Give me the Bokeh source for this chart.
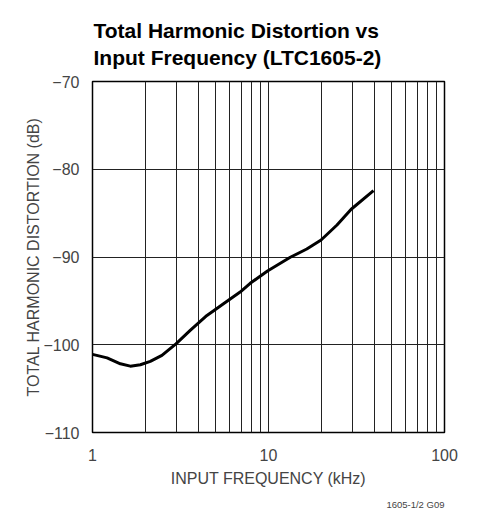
from bokeh.plotting import figure
from bokeh.models import FixedTicker, Range1d, Title
from bokeh.embed import file_html
from bokeh.resources import INLINE

# data
freq_khz = [1.0, 1.21, 1.44, 1.64, 1.87, 2.13, 2.48, 2.98, 3.59, 4.47, 5.55,
            6.9, 7.87, 9.87, 13.3, 16.5, 19.9, 24.5, 29.5, 39.5]
thd_db = [-101.1, -101.5, -102.17, -102.44, -102.28, -101.9, -101.22, -99.89,
          -98.37, -96.66, -95.33, -94.0, -93.0, -91.6, -90.03, -89.09, -88.06,
          -86.35, -84.56, -82.44]
x_major = [1, 10, 100]
x_minor = [2, 3, 4, 5, 6, 7, 8, 9, 20, 30, 40, 50, 60, 70, 80, 90]
y_ticks = [-110, -100, -90, -80, -70]
y_labels = {v: "\u2212" + str(abs(v)) for v in y_ticks}

FONT = "Liberation Sans"

p = figure(width=470, height=517, x_axis_type="log",
           x_range=Range1d(1, 100), y_range=Range1d(-110, -70),
           output_backend="svg", toolbar_location=None,
           min_border_left=92, min_border_right=26,
           min_border_top=81, min_border_bottom=85)

p.title.text = "Total Harmonic Distortion vs\nInput Frequency (LTC1605-2)"
p.title.text_font = FONT
p.title.text_font_size = "21px"
p.title.text_font_style = "bold"
p.title.text_color = "black"
p.title.align = "left"
p.title.offset = 1
p.title.standoff = 24
p.title.text_line_height = 1.18

p.outline_line_color = "black"
p.outline_line_width = 1.5

# x axis
xa = p.xaxis[0]
xa.ticker = FixedTicker(ticks=x_major, minor_ticks=x_minor)
xa.major_label_overrides = {1: "1", 10: "10", 100: "100"}
xa.axis_label = "INPUT FREQUENCY (kHz)"
xa.axis_label_text_font = FONT
xa.axis_label_text_font_size = "16px"
xa.axis_label_text_font_style = "normal"
xa.axis_label_standoff = 6
xa.major_label_text_font = FONT
xa.major_label_text_font_size = "16px"
xa.major_label_standoff = 10
xa.axis_line_color = None
xa.major_tick_line_color = None
xa.minor_tick_line_color = None

# y axis
ya = p.yaxis[0]
ya.ticker = FixedTicker(ticks=y_ticks)
ya.major_label_overrides = y_labels
ya.axis_label = "TOTAL HARMONIC DISTORTION (dB)"
ya.axis_label_text_font = FONT
ya.axis_label_text_font_size = "16px"
ya.axis_label_text_font_style = "normal"
ya.axis_label_standoff = -2
ya.major_label_text_font = FONT
ya.major_label_text_font_size = "16px"
ya.major_label_standoff = 7
ya.axis_line_color = None
ya.major_tick_line_color = None
ya.minor_tick_line_color = None

# grids
p.xgrid.grid_line_color = "#222222"
p.xgrid.grid_line_width = 1
p.xgrid.minor_grid_line_color = "#222222"
p.xgrid.minor_grid_line_width = 1
p.ygrid.grid_line_color = "#222222"
p.ygrid.grid_line_width = 1

p.line(freq_khz, thd_db, line_color="black", line_width=3, line_join="round")

note = Title(text="1605-1/2 G09", align="right", text_font=FONT,
             text_font_size="9.5px", text_font_style="normal", standoff=15)
p.add_layout(note, "below")

open("out.html", "w").write(file_html(p, INLINE))
